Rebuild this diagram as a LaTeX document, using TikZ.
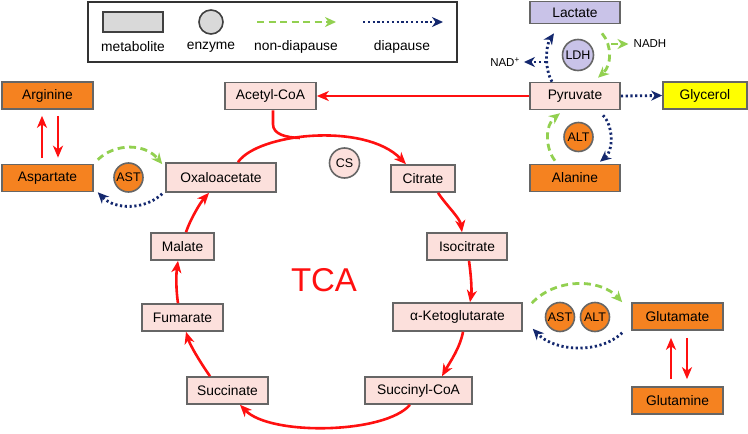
\documentclass[tikz,border=0pt]{standalone}
\usepackage{fontspec}
\setmainfont{Liberation Sans}
\usetikzlibrary{arrows.meta,calc}
\definecolor{pinkc}{HTML}{FCE0DC}
\definecolor{orangec}{HTML}{F58220}
\definecolor{lavc}{HTML}{C9C3E8}
\definecolor{yelc}{HTML}{FFFF00}
\definecolor{grayc}{HTML}{D9D9D9}
\definecolor{bordc}{HTML}{666666}
\definecolor{redc}{HTML}{FF1010}
\definecolor{greenc}{HTML}{92D050}
\definecolor{navyc}{HTML}{14286E}
\begin{document}
\begin{tikzpicture}[x=1pt,y=-1pt,
  met/.style={draw=bordc, line width=1.6pt, inner sep=0pt, minimum height=27pt, font=\fontsize{13.8}{16}\selectfont},
  pinkbox/.style={met, fill=pinkc},
  orbox/.style={met, fill=orangec},
  enz/.style={circle, draw=bordc, line width=1.6pt, inner sep=0pt, minimum size=29pt, font=\fontsize{12.5}{14}\selectfont},
  redarr/.style={draw=redc, line width=2.6pt, -{Stealth[length=12pt,width=10pt,inset=3.5pt]}},
  redline/.style={draw=redc, line width=2.6pt},
  grarr/.style={draw=greenc, line width=2.8pt, dash pattern=on 7pt off 4.5pt, -{Stealth[length=11pt,width=10pt,inset=3.5pt]}},
  dotarr/.style={draw=navyc, line width=2.8pt, dash pattern=on 2.2pt off 2.6pt, -{Stealth[length=11pt,width=10pt,inset=3.5pt]}},
  lbl/.style={inner sep=0pt, font=\fontsize{13.8}{16}\selectfont},
  small/.style={inner sep=0pt, font=\fontsize{11.5}{14}\selectfont}]
\useasboundingbox (0,0) rectangle (748,434);

% legend
\node[draw=black!80, line width=1.6pt, minimum width=369pt, minimum height=60pt, inner sep=0pt] (leg) at (272.5,32) {};
\node[draw=black!75, fill=grayc, line width=1.6pt, minimum width=60pt, minimum height=20pt, inner sep=0pt] (legrect) at (133,22) {};
\node[circle, draw=black!75, fill=grayc, line width=1.6pt, minimum size=24pt, inner sep=0pt] (legcirc) at (211,22) {};
\node[lbl] (legt1) at (133,47) {metabolite};
\node[lbl] (legt2) at (211,47) {enzyme};
\node[lbl] (legt3) at (296,47) {non-diapause};
\node[lbl] (legt4) at (402,47) {diapause};
\coordinate (g1) at (257,22); \coordinate (g2) at (336,22);
\coordinate (d1) at (363,22); \coordinate (d2) at (443,22);
\draw[grarr] (g1) -- (g2);
\draw[dotarr] (d1) -- (d2);

% metabolites
\node[orbox, minimum width=91pt] (arg) at (47.5,95.5) {Arginine};
\node[orbox, minimum width=91pt] (asp) at (47.5,178) {Aspartate};
\node[pinkbox, minimum width=91pt] (acc) at (270.5,96) {Acetyl-CoA};
\node[pinkbox, minimum width=90pt] (pyr) at (575,96) {Pyruvate};
\node[met, fill=lavc, minimum width=90pt, minimum height=22pt] (lac) at (575,12.5) {Lactate};
\node[met, fill=yelc, minimum width=84pt] (gly) at (705,95.5) {Glycerol};
\node[orbox, minimum width=90pt] (ala) at (575,178) {Alanine};
\node[pinkbox, minimum width=110pt, minimum height=29pt] (oxa) at (221,177.5) {Oxaloacetate};
\node[pinkbox, minimum width=64pt] (cit) at (423,178.5) {Citrate};
\node[pinkbox, minimum width=80pt] (iso) at (467,246.5) {Isocitrate};
\node[pinkbox, minimum width=129pt, minimum height=28pt] (akg) at (457.5,317) {α-Ketoglutarate};
\node[pinkbox, minimum width=107pt, minimum height=27pt] (sco) at (418.5,390.5) {Succinyl-CoA};
\node[pinkbox, minimum width=81pt, minimum height=27pt] (suc) at (227.5,390.5) {Succinate};
\node[pinkbox, minimum width=81pt] (fum) at (182.5,317.5) {Fumarate};
\node[pinkbox, minimum width=63pt] (mal) at (182.5,246.5) {Malate};
\node[orbox, minimum width=91pt] (glu) at (677.5,316.5) {Glutamate};
\node[orbox, minimum width=91pt] (gln) at (677.5,400.5) {Glutamine};

% enzymes
\node[enz, fill=lavc, minimum size=31pt] (ldh) at (578,55) {LDH};
\node[enz, fill=orangec] (alt1) at (578.5,137) {ALT};
\node[enz, fill=orangec] (ast1) at (128.5,177.5) {AST};
\node[enz, fill=pinkc, minimum size=30pt] (cs) at (344.5,163) {CS};
\node[enz, fill=orangec] (ast2) at (560,317) {AST};
\node[enz, fill=orangec] (alt2) at (595,317) {ALT};

% labels
\node[inner sep=0pt, text=redc, font=\fontsize{33}{36}\selectfont] (tca) at (324,280) {TCA};
\node[small] (nad) at (505,62) {NAD\textsuperscript{+}};
\node[small] (nadh) at (650,44) {NADH};

% TCA cycle
\draw[redarr] (pyr.west) -- (acc.east);
\draw[redline] ([xshift=2.5pt]acc.south) -- ++(0,14) .. controls ++(0,10) and (286,137.5) .. (300,138);
\draw[redarr] ([xshift=17pt]oxa.north) .. controls (258,133) and (365,122) .. ([xshift=-17pt]cit.north);
\draw[redarr] ([xshift=15pt]cit.south) .. controls (446,205) and (460,218) .. ([xshift=-5pt]iso.north);
\draw[redarr] ([xshift=2pt]iso.south) .. controls (471,275) and (472,290) .. ([xshift=12.5pt]akg.north);
\draw[redarr] ([xshift=5.5pt]akg.south) .. controls (460,348) and (450,362) .. ([xshift=23.5pt]sco.north);
\draw[redarr] ([xshift=-8.5pt]sco.south) .. controls (385,434) and (270,436) .. ([xshift=12.5pt]suc.south);
\draw[redarr] ([xshift=-17.5pt]suc.north) .. controls (200,362) and (190,345) .. ([xshift=3.5pt]fum.south);
\draw[redarr] ([xshift=-4.5pt]fum.north) .. controls (176,290) and (176,275) .. ([xshift=-4.5pt]mal.south);
\draw[redarr] ([xshift=3.5pt]mal.north) .. controls (190,220) and (200,203) .. ([xshift=-12pt]oxa.south);

% amino acid interconversions
\draw[redarr, shorten <=6pt, shorten >=6pt] ([xshift=-5.5pt]asp.north) -- ([xshift=-5.5pt]arg.south);
\draw[redarr, shorten <=6pt, shorten >=6pt] ([xshift=10.5pt]arg.south) -- ([xshift=10.5pt]asp.north);
\draw[redarr, shorten <=7pt, shorten >=7pt] ([xshift=-6.5pt]gln.north) -- ([xshift=-6.5pt]glu.south);
\draw[redarr, shorten <=7pt, shorten >=7pt] ([xshift=9.5pt]glu.south) -- ([xshift=9.5pt]gln.north);

% AST (aspartate)
\draw[grarr] ([xshift=4pt,yshift=4pt]asp.north east) .. controls (115,143) and (145,143) .. ([xshift=-3pt,yshift=-2pt]oxa.north west);
\draw[dotarr] ([xshift=-3pt,yshift=-1pt]oxa.south west) .. controls (145,210) and (115,210) .. ([xshift=4pt,yshift=0pt]asp.south east);

% AST/ALT (glutamate)
\draw[grarr] ([xshift=9pt,yshift=-1pt]akg.north east) .. controls (555,278) and (600,278) .. ([xshift=-9pt]glu.north west);
\draw[dotarr] ([xshift=-9pt,yshift=-2pt]glu.south west) .. controls (600,354) and (555,352) .. ([xshift=10pt,yshift=3pt]akg.south east);

% pyruvate / lactate
\coordinate (jn1) at (546,62);
\coordinate (jn2) at (611,44);
\draw[dotarr] ([xshift=-23pt]pyr.north) .. controls (544,68) and (546,45) .. ([xshift=-21pt,yshift=-9pt]lac.south);
\draw[dotarr] (jn1) -- ([xshift=4pt]nad.east);
\draw[grarr] ([xshift=27pt,yshift=-9pt]lac.south) .. controls (612,45) and (612,65) .. ([xshift=23pt,yshift=4pt]pyr.north);
\draw[grarr] (jn2) -- ([xshift=-5pt]nadh.west);
\draw[dotarr] (pyr.east) -- (gly.west);

% pyruvate / alanine
\draw[grarr] ([xshift=-20pt,yshift=3pt]ala.north) .. controls (545,148) and (545,125) .. ([xshift=-15pt,yshift=-3pt]pyr.south);
\draw[dotarr] ([xshift=28pt,yshift=-5pt]pyr.south) .. controls (613,125) and (614,150) .. ([xshift=25pt,yshift=2pt]ala.north);
\end{tikzpicture}
\end{document}
